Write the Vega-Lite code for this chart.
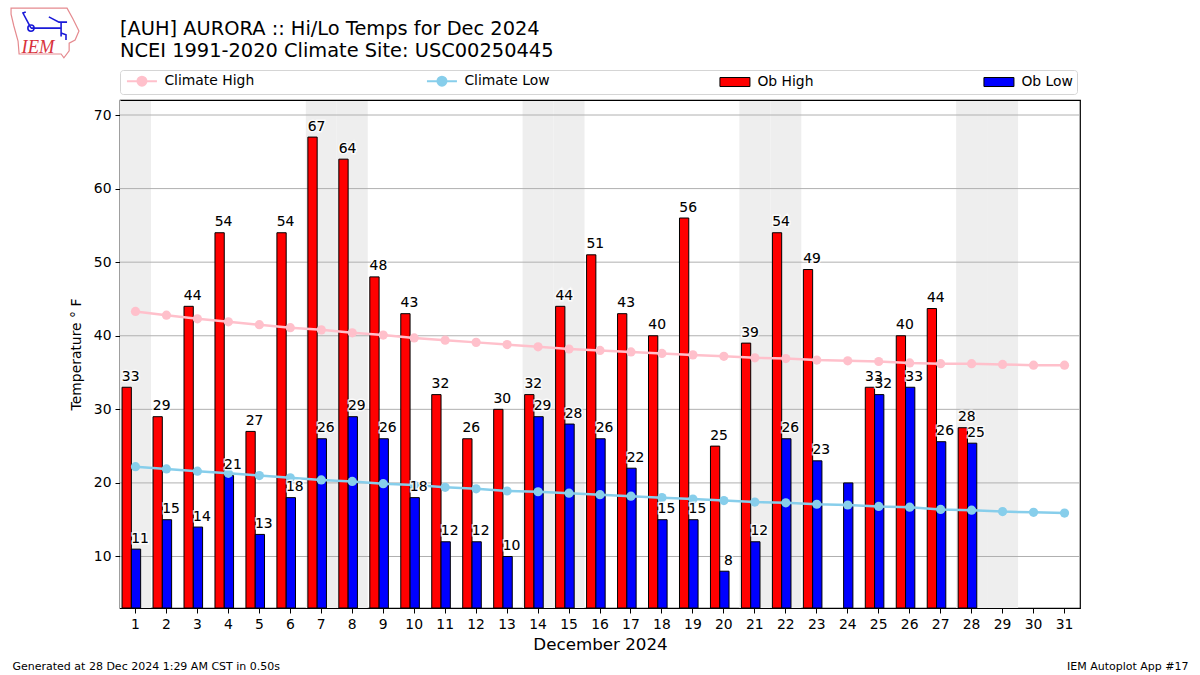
{
"$schema":"https://vega.github.io/schema/vega-lite/v6.json",
"width":960,"height":508,
"autosize":{"type":"none"},
"padding":{"left":120,"top":100,"right":120,"bottom":67},
"background":"white",
"title":{"text":["[AUH] AURORA :: Hi/Lo Temps for Dec 2024","NCEI 1991-2020 Climate Site: USC00250445"],"anchor":"start","frame":"group","font":"DejaVu Sans","fontSize":19.4,"fontWeight":"normal","lineHeight":21.5,"offset":-64,"color":"#000"},
"config":{"font":"DejaVu Sans","view":{"stroke":"#000","strokeWidth":1.2},
"axis":{"labelFont":"DejaVu Sans","titleFont":"DejaVu Sans","labelFontSize":13.9,"labelColor":"#000","tickColor":"#000","tickSize":5,"grid":false,"domain":false,"titleFontWeight":"normal","titleColor":"#000","labelAngle":0},
"axisY":{"domain":true,"domainColor":"#000","domainWidth":1.2,"zindex":1}},
"datasets":{
"obs":[
{"day":1,"series":"Ob High","temp":33,"label":"33"},{"day":1,"series":"Ob Low","temp":11,"label":"11"},
{"day":2,"series":"Ob High","temp":29,"label":"29"},{"day":2,"series":"Ob Low","temp":15,"label":"15"},
{"day":3,"series":"Ob High","temp":44,"label":"44"},{"day":3,"series":"Ob Low","temp":14,"label":"14"},
{"day":4,"series":"Ob High","temp":54,"label":"54"},{"day":4,"series":"Ob Low","temp":21,"label":"21"},
{"day":5,"series":"Ob High","temp":27,"label":"27"},{"day":5,"series":"Ob Low","temp":13,"label":"13"},
{"day":6,"series":"Ob High","temp":54,"label":"54"},{"day":6,"series":"Ob Low","temp":18,"label":"18"},
{"day":7,"series":"Ob High","temp":67,"label":"67"},{"day":7,"series":"Ob Low","temp":26,"label":"26"},
{"day":8,"series":"Ob High","temp":64,"label":"64"},{"day":8,"series":"Ob Low","temp":29,"label":"29"},
{"day":9,"series":"Ob High","temp":48,"label":"48"},{"day":9,"series":"Ob Low","temp":26,"label":"26"},
{"day":10,"series":"Ob High","temp":43,"label":"43"},{"day":10,"series":"Ob Low","temp":18,"label":"18"},
{"day":11,"series":"Ob High","temp":32,"label":"32"},{"day":11,"series":"Ob Low","temp":12,"label":"12"},
{"day":12,"series":"Ob High","temp":26,"label":"26"},{"day":12,"series":"Ob Low","temp":12,"label":"12"},
{"day":13,"series":"Ob High","temp":30,"label":"30"},{"day":13,"series":"Ob Low","temp":10,"label":"10"},
{"day":14,"series":"Ob High","temp":32,"label":"32"},{"day":14,"series":"Ob Low","temp":29,"label":"29"},
{"day":15,"series":"Ob High","temp":44,"label":"44"},{"day":15,"series":"Ob Low","temp":28,"label":"28"},
{"day":16,"series":"Ob High","temp":51,"label":"51"},{"day":16,"series":"Ob Low","temp":26,"label":"26"},
{"day":17,"series":"Ob High","temp":43,"label":"43"},{"day":17,"series":"Ob Low","temp":22,"label":"22"},
{"day":18,"series":"Ob High","temp":40,"label":"40"},{"day":18,"series":"Ob Low","temp":15,"label":"15"},
{"day":19,"series":"Ob High","temp":56,"label":"56"},{"day":19,"series":"Ob Low","temp":15,"label":"15"},
{"day":20,"series":"Ob High","temp":25,"label":"25"},{"day":20,"series":"Ob Low","temp":8,"label":"8"},
{"day":21,"series":"Ob High","temp":39,"label":"39"},{"day":21,"series":"Ob Low","temp":12,"label":"12"},
{"day":22,"series":"Ob High","temp":54,"label":"54"},{"day":22,"series":"Ob Low","temp":26,"label":"26"},
{"day":23,"series":"Ob High","temp":49,"label":"49"},{"day":23,"series":"Ob Low","temp":23,"label":"23"},
{"day":24,"series":"Ob Low","temp":20,"label":""},
{"day":25,"series":"Ob High","temp":33,"label":"33"},{"day":25,"series":"Ob Low","temp":32,"label":"32"},
{"day":26,"series":"Ob High","temp":40,"label":"40"},{"day":26,"series":"Ob Low","temp":33,"label":"33"},
{"day":27,"series":"Ob High","temp":43.7,"label":"44"},{"day":27,"series":"Ob Low","temp":25.6,"label":"26"},
{"day":28,"series":"Ob High","temp":27.5,"label":"28"},{"day":28,"series":"Ob Low","temp":25.4,"label":"25"}
],
"climate":[
{"day":1,"high":43.3,"low":22.2},{"day":2,"high":42.8,"low":21.9},{"day":3,"high":42.3,"low":21.6},{"day":4,"high":41.9,"low":21.3},{"day":5,"high":41.5,"low":21.0},{"day":6,"high":41.1,"low":20.7},{"day":7,"high":40.8,"low":20.4},{"day":8,"high":40.4,"low":20.2},{"day":9,"high":40.1,"low":19.9},{"day":10,"high":39.7,"low":19.7},{"day":11,"high":39.4,"low":19.4},{"day":12,"high":39.1,"low":19.2},{"day":13,"high":38.8,"low":18.9},{"day":14,"high":38.5,"low":18.8},{"day":15,"high":38.2,"low":18.6},{"day":16,"high":38.0,"low":18.4},{"day":17,"high":37.8,"low":18.2},{"day":18,"high":37.6,"low":18.0},{"day":19,"high":37.4,"low":17.8},{"day":20,"high":37.2,"low":17.6},{"day":21,"high":37.0,"low":17.4},{"day":22,"high":36.9,"low":17.3},{"day":23,"high":36.7,"low":17.1},{"day":24,"high":36.6,"low":17.0},{"day":25,"high":36.5,"low":16.8},{"day":26,"high":36.3,"low":16.7},{"day":27,"high":36.2,"low":16.4},{"day":28,"high":36.2,"low":16.3},{"day":29,"high":36.1,"low":16.1},{"day":30,"high":36.0,"low":16.0},{"day":31,"high":36.0,"low":15.9}
],
"weekend":[{"day":1},{"day":7},{"day":8},{"day":14},{"day":15},{"day":21},{"day":22},{"day":28},{"day":29}],
"grid":[{"t":10},{"t":20},{"t":30},{"t":40},{"t":50},{"t":60},{"t":70}],
"logo":[{"logo":"outline","sym":"mark"}]
},
"layer":[
{"data":{"name":"weekend"},"mark":{"type":"bar","fill":"#eeeeee","stroke":null},
 "encoding":{"x":{"field":"day","type":"ordinal","scale":{"type":"band","paddingInner":0,"paddingOuter":0,"domain":[1,2,3,4,5,6,7,8,9,10,11,12,13,14,15,16,17,18,19,20,21,22,23,24,25,26,27,28,29,30,31]},
 "axis":{"title":"December 2024","titleFontSize":16.7,"titlePadding":6,"labelPadding":4,"labelOverlap":false,"domain":true,"domainColor":"#000","domainWidth":1.2,"zindex":1}}}},
{"data":{"name":"grid"},"mark":{"type":"rule","color":"#b0b0b0","strokeWidth":1},
 "encoding":{"y":{"field":"t","type":"quantitative","scale":{"domain":[3,72.04],"nice":false,"zero":false},
 "axis":{"title":"Temperature ° F","tickCount":7,"titleFontSize":13.9,"labelPadding":4,"titlePadding":10}}}},
{"data":{"name":"obs"},"mark":{"type":"bar","stroke":"#000","strokeWidth":1,"clip":true},
 "encoding":{
 "x":{"field":"day","type":"ordinal","scale":{"type":"band","paddingInner":0,"paddingOuter":0},
  "axis":{"title":"Generated at 28 Dec 2024 1:29 AM CST in 0.50s","titleFontSize":11,"titleX":-108,"titleY":569,"titleAlign":"left","titleBaseline":"alphabetic","labels":false,"ticks":false,"domain":false}},
 "xOffset":{"field":"series","type":"nominal","scale":{"domain":["Ob High","Ob Low"],"paddingInner":0,"paddingOuter":0.667,"align":0.167}},
 "y":{"field":"temp","type":"quantitative","stack":null,"scale":{"domain":[3,72.04],"nice":false,"zero":false},"axis":{"title":"Temperature ° F","tickCount":7,"titleFontSize":13.9,"labelPadding":4,"titlePadding":10}},
 "color":{"field":"series","type":"nominal","scale":{"domain":["Climate High","Climate Low","Ob High","Ob Low"],"range":["#ffc0cb","#87ceeb","#ff0000","#0000ff"]},
  "legend":{"title":null,"orient":"none","legendX":0,"legendY":-30,"direction":"horizontal","columns":4,"columnPadding":167,"padding":4,"fillColor":"#fff","strokeColor":"#d5d5d5","cornerRadius":3,"symbolSize":400,"labelOffset":26.5,"labelFontSize":13.9,"labelFont":"DejaVu Sans","labelColor":"#000","rowPadding":0,"labelExpr":"datum.label=='Ob Low' ? datum.label+'\u00a0' : datum.label",
  "encoding":{"symbols":{"shape":{"value":{"signal":"(datum.value==='Ob High'||datum.value==='Ob Low') ? 'M-0.4,-0.45H2.6V0.45H-0.4Z' : 'M-0.4,0H2.6M1.55,0A0.45,0.45,0,1,1,0.65,0A0.45,0.45,0,1,1,1.55,0Z'"}},"stroke":{"value":{"signal":"datum.value==='Climate High' ? '#ffc0cb' : datum.value==='Climate Low' ? '#87ceeb' : '#000'"}},"strokeWidth":{"value":{"signal":"(datum.value==='Ob High'||datum.value==='Ob Low') ? 1 : 2"}}}}
 }}}},
{"data":{"name":"climate"},"mark":{"type":"line","color":"#ffc0cb","strokeWidth":2.5},
 "encoding":{"x":{"field":"day","type":"ordinal","scale":{"type":"band","paddingInner":0,"paddingOuter":0},"axis":{"orient":"top","title":null,"labels":false,"ticks":false,"domain":true,"domainColor":"#000","domainWidth":1.2,"zindex":1}},"y":{"field":"high","type":"quantitative","scale":{"domain":[3,72.04],"nice":false,"zero":false},"axis":{"title":"Temperature ° F","tickCount":7,"titleFontSize":13.9,"labelPadding":4,"titlePadding":10}}}},
{"data":{"name":"climate"},"mark":{"type":"point","filled":true,"fill":"#ffc0cb","size":85,"opacity":1},
 "encoding":{"x":{"field":"day","type":"ordinal","scale":{"type":"band","paddingInner":0,"paddingOuter":0},"axis":null},"y":{"field":"high","type":"quantitative","scale":{"domain":[3,72.04],"nice":false,"zero":false},"axis":{"title":"Temperature ° F","tickCount":7,"titleFontSize":13.9,"labelPadding":4,"titlePadding":10}}}},
{"data":{"name":"climate"},"mark":{"type":"line","color":"#87ceeb","strokeWidth":2.5},
 "encoding":{"x":{"field":"day","type":"ordinal","scale":{"type":"band","paddingInner":0,"paddingOuter":0},"axis":null},"y":{"field":"low","type":"quantitative","scale":{"domain":[3,72.04],"nice":false,"zero":false},"axis":{"title":"Temperature ° F","tickCount":7,"titleFontSize":13.9,"labelPadding":4,"titlePadding":10}}}},
{"data":{"name":"climate"},"mark":{"type":"point","filled":true,"fill":"#87ceeb","size":85,"opacity":1},
 "encoding":{"x":{"field":"day","type":"ordinal","scale":{"type":"band","paddingInner":0,"paddingOuter":0},
  "axis":{"title":"IEM Autoplot App #17","titleFontSize":11,"titleX":1068,"titleY":569,"titleAlign":"right","titleBaseline":"alphabetic","labels":false,"ticks":false,"domain":false}},"y":{"field":"low","type":"quantitative","scale":{"domain":[3,72.04],"nice":false,"zero":false},"axis":{"title":"Temperature ° F","tickCount":7,"titleFontSize":13.9,"labelPadding":4,"titlePadding":10}}}},
{"data":{"name":"obs"},"mark":{"type":"text","dx":4,"dy":-3.5,"baseline":"bottom","align":"center","fontSize":13.9,"font":"DejaVu Sans","fill":"#000","stroke":"#fff","strokeWidth":3,"strokeOpacity":0.8},
 "encoding":{"x":{"field":"day","type":"ordinal","scale":{"type":"band","paddingInner":0,"paddingOuter":0},"axis":null},
 "xOffset":{"field":"series","type":"nominal","scale":{"domain":["Ob High","Ob Low"],"paddingInner":0,"paddingOuter":0.667,"align":0.167}},
 "y":{"field":"temp","type":"quantitative","scale":{"domain":[3,72.04],"nice":false,"zero":false},"axis":{"title":"Temperature ° F","tickCount":7,"titleFontSize":13.9,"labelPadding":4,"titlePadding":10}},"text":{"field":"label","type":"nominal"}}},
{"data":{"name":"obs"},"mark":{"type":"text","dx":4,"dy":-3.5,"baseline":"bottom","align":"center","fontSize":13.9,"font":"DejaVu Sans","fill":"#000"},
 "encoding":{"x":{"field":"day","type":"ordinal","scale":{"type":"band","paddingInner":0,"paddingOuter":0},
  "axis":{"title":"IEM","titleFont":"Liberation Serif","titleFontStyle":"italic","titleFontSize":18.5,"titleColor":"#d8323c","titleX":-99,"titleY":-48,"titleAlign":"left","titleBaseline":"alphabetic","labels":false,"ticks":false,"domain":false}},
 "xOffset":{"field":"series","type":"nominal","scale":{"domain":["Ob High","Ob Low"],"paddingInner":0,"paddingOuter":0.667,"align":0.167}},
 "y":{"field":"temp","type":"quantitative","scale":{"domain":[3,72.04],"nice":false,"zero":false},"axis":{"title":"Temperature ° F","tickCount":7,"titleFontSize":13.9,"labelPadding":4,"titlePadding":10}},"text":{"field":"label","type":"nominal"}}},
{"data":{"name":"logo"},"mark":{"type":"point","size":0},
 "encoding":{
 "shape":{"field":"logo","type":"nominal","scale":{"domain":["outline"],"range":["M-0.97,-0.71L0.63,-0.71L0.8,-0.4L0.97,-0.06L0.86,0.2L0.69,0.29L0.69,0.51L0.54,0.71L0.46,0.6L-0.74,0.6L-0.77,0.23L-0.89,-0.2L-0.97,-0.54Z"]},
  "legend":{"title":null,"orient":"none","legendX":-111,"legendY":-103,"padding":0,"symbolSize":4900,"symbolFillColor":"transparent","symbolStrokeColor":"#e58a8f","symbolStrokeWidth":1.2,"symbolOpacity":1,"labelExpr":"''","labelOffset":0,"labelFontSize":1}}}},
{"data":{"name":"logo"},"mark":{"type":"point","size":0},
 "encoding":{
 "opacity":{"field":"sym","type":"nominal","scale":{"domain":["mark"],"range":[1]},
  "legend":{"title":null,"orient":"none","legendX":-111,"legendY":-103,"padding":0,"symbolType":"M-0.4,-0.14H0.46M-0.4,-0.14L-0.63,-0.57L-0.55,-0.6M0.11,-0.46L0.4,-0.31H0.63M0.46,-0.31V0.1M0.46,0L0.6,0.05V0.2M-0.31,-0.14A0.09,0.09,0,1,1,-0.49,-0.14A0.09,0.09,0,1,1,-0.31,-0.14Z","symbolSize":4900,"symbolFillColor":"transparent","symbolStrokeColor":"#1a1ad8","symbolStrokeWidth":1.6,"symbolOpacity":1,"labelExpr":"''","labelOffset":0,"labelFontSize":1}}}}
],
"resolve":{"axis":{"x":"independent"}}
}
